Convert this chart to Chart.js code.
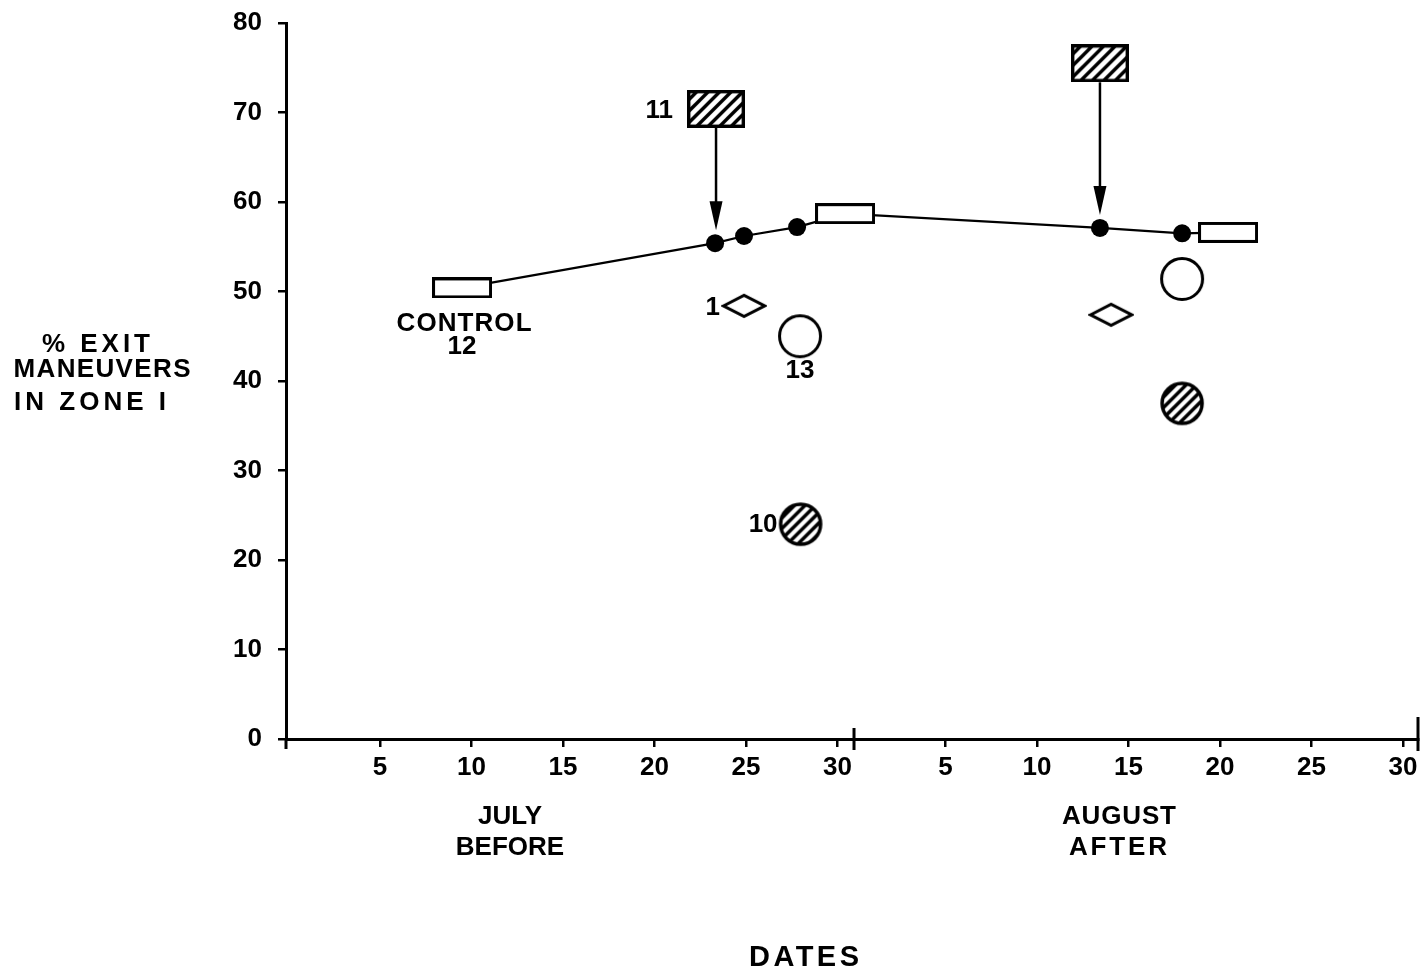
<!DOCTYPE html>
<html><head><meta charset="utf-8">
<script src="https://cdn.jsdelivr.net/npm/chart.js@4.4.1/dist/chart.umd.min.js"></script>
<style>html,body{margin:0;padding:0;background:#fff;overflow:hidden}#wrap{width:1422px;height:979px;position:relative}</style>
</head><body><div id="wrap"><canvas id="c"></canvas></div>
<script>
const FONT = '"Liberation Sans", Arial, sans-serif';
// x value = days counted from 30 June (July d = d, August d = AUG0 + d)
const AUG0 = 30.9;
const julyTickDays = [5, 10, 15, 20, 25, 30];
const augTickDays = [5, 10, 15, 20, 25, 30];
const xTickLabels = julyTickDays.concat(augTickDays).map(String);
const yTicks = [0, 10, 20, 30, 40, 50, 60, 70, 80];

const controlDays = [9.48, 30.41, 51.34];
const controlVals = [50.4, 58.7, 56.6];
const dotDays = [23.31, 24.89, 27.79, 44.34, 48.83];
const dotVals = [55.4, 56.2, 57.2, 57.1, 56.5];
const hatchRectDays = [23.36, 44.34];
const hatchRectVals = [70.4, 75.5];
const diamondDays = [24.89, 44.95];
const diamondVals = [48.4, 47.4];
const openCircleDays = [27.95, 48.83];
const openCircleVals = [45.0, 51.4];
const hatchCircleDays = [27.98, 48.83];
const hatchCircleVals = [24.0, 37.5];
const arrowTargets = [0, 3]; // dot index each hatched rectangle points to

function mk(w, h, draw) { const c = document.createElement('canvas'); c.width = w; c.height = h; const g = c.getContext('2d'); draw(g, w, h); return c; }
function hatch(g, w, h, step, lw) { g.lineWidth = lw; g.strokeStyle = '#000'; for (let k = -h; k < w + h; k += step) { g.beginPath(); g.moveTo(k, h); g.lineTo(k + h, 0); g.stroke(); } }
const openRect = mk(60, 21, (g, w, h) => { g.fillStyle = '#fff'; g.fillRect(0, 0, w, h); g.lineWidth = 3; g.strokeStyle = '#000'; g.strokeRect(1.5, 1.5, w - 3, h - 3); });
const hatchRect = mk(58, 38, (g, w, h) => { g.fillStyle = '#fff'; g.fillRect(0, 0, w, h); g.save(); g.beginPath(); g.rect(0, 0, w, h); g.clip(); hatch(g, w, h, 11.5, 3.4); g.restore(); g.lineWidth = 3.4; g.strokeStyle = '#000'; g.strokeRect(1.7, 1.7, w - 3.4, h - 3.4); });
const hatchCircle = mk(46, 46, (g, w, h) => { g.beginPath(); g.arc(23, 23, 20, 0, Math.PI * 2); g.fillStyle = '#fff'; g.fill(); g.save(); g.clip(); hatch(g, w, h, 10.5, 3.4); g.restore(); g.lineWidth = 3.5; g.strokeStyle = '#000'; g.beginPath(); g.arc(23, 23, 20, 0, Math.PI * 2); g.stroke(); });
const openCircle = mk(46, 46, (g) => { g.beginPath(); g.arc(23, 23, 20.5, 0, Math.PI * 2); g.fillStyle = '#fff'; g.fill(); g.lineWidth = 3; g.strokeStyle = '#000'; g.stroke(); });
const diamond = mk(46, 26, (g, w, h) => { g.beginPath(); g.moveTo(2.5, h / 2); g.lineTo(w / 2, 2.5); g.lineTo(w - 2.5, h / 2); g.lineTo(w / 2, h - 2.5); g.closePath(); g.fillStyle = '#fff'; g.fill(); g.lineWidth = 3; g.strokeStyle = '#000'; g.stroke(); });

const pts = (xs, ys) => xs.map((x, i) => ({ x, y: ys[i] }));
const linePts = pts(controlDays, controlVals).concat(pts(dotDays, dotVals)).sort((a, b) => a.x - b.x);

function imgSet(label, data, img, order) {
  return { label, data, pointStyle: img, pointRadius: 5, pointHoverRadius: 5, showLine: false, order };
}

function fitText(ctx, str, cx, cy, size, target) {
  ctx.font = 'bold ' + size + 'px ' + FONT;
  if ('letterSpacing' in ctx) ctx.letterSpacing = '0px';
  const w0 = ctx.measureText(str).width;
  let sp = 0;
  if (target && str.length > 1) sp = Math.max(0, (target - w0) / (str.length - 1));
  if ('letterSpacing' in ctx) ctx.letterSpacing = sp + 'px'; else sp = 0;
  const total = w0 + sp * (str.length - 1);
  ctx.textAlign = 'left'; ctx.textBaseline = 'middle'; ctx.fillStyle = '#000';
  ctx.fillText(str, cx - total / 2, cy);
  if ('letterSpacing' in ctx) ctx.letterSpacing = '0px';
}

const noPad = s => { s.paddingLeft = 0; s.paddingRight = 0; s.paddingTop = 0; s.paddingBottom = 0; };

const extras = {
  id: 'extras',
  afterDatasetsDraw(chart) {
    const ctx = chart.ctx, xs = chart.scales.x, ys = chart.scales.y;
    const X = v => xs.getPixelForValue(v), Y = v => ys.getPixelForValue(v);
    const axisY = ys.getPixelForValue(0);
    ctx.save();
    ctx.strokeStyle = '#000'; ctx.fillStyle = '#000';
    // arrows
    hatchRectDays.forEach((d, i) => {
      const x = X(d);
      const y0 = Y(hatchRectVals[i]) + hatchRect.height / 2;
      const tip = Y(dotVals[arrowTargets[i]]) - 13;
      ctx.lineWidth = 2.5;
      ctx.beginPath(); ctx.moveTo(x, y0); ctx.lineTo(x, tip - 20); ctx.stroke();
      ctx.beginPath(); ctx.moveTo(x - 6.5, tip - 29); ctx.lineTo(x + 6.5, tip - 29); ctx.lineTo(x, tip); ctx.closePath(); ctx.fill();
    });
    // boundary ticks
    ctx.lineWidth = 3;
    const vt = (v, up, down) => { ctx.beginPath(); ctx.moveTo(X(v), axisY - up); ctx.lineTo(X(v), axisY + down); ctx.stroke(); };
    ctx.beginPath(); ctx.moveTo(chart.chartArea.left, axisY); ctx.lineTo(chart.chartArea.left, axisY + 10); ctx.stroke();
    vt(AUG0, 11, 11);
    vt(xs.max, 22, 12);
    // point annotations
    const r0x = X(hatchRectDays[0]), r0y = Y(hatchRectVals[0]);
    ctx.font = 'bold 26px ' + FONT; ctx.textAlign = 'right'; ctx.textBaseline = 'middle';
    ctx.fillText('11', r0x - 43, r0y + 2);
    const cx = X(controlDays[0]), cy = Y(controlVals[0]);
    fitText(ctx, 'CONTROL', cx + 2, cy + 36, 26, 135);
    fitText(ctx, '12', cx, cy + 59, 26, 0);
    ctx.font = 'bold 26px ' + FONT; ctx.textAlign = 'right'; ctx.textBaseline = 'middle';
    ctx.fillText('1', X(diamondDays[0]) - 24, Y(diamondVals[0]) + 2);
    fitText(ctx, '13', X(openCircleDays[0]), Y(openCircleVals[0]) + 35, 26, 0);
    ctx.font = 'bold 26px ' + FONT; ctx.textAlign = 'right'; ctx.textBaseline = 'middle';
    ctx.fillText('10', X(hatchCircleDays[0]) - 23, Y(hatchCircleVals[0]) + 1);
    // axis captions
    fitText(ctx, 'JULY', 510, 817, 26, 62);
    fitText(ctx, 'BEFORE', 510, 848, 26, 108);
    fitText(ctx, 'AUGUST', 1119, 817, 26, 114);
    fitText(ctx, 'AFTER', 1118, 848, 26, 98);
    fitText(ctx, 'DATES', 804, 958, 29, 110);
    fitText(ctx, '% EXIT', 96, 345, 26, 108);
    fitText(ctx, 'MANEUVERS', 102, 370, 26, 177);
    fitText(ctx, 'IN ZONE I', 90, 403, 26, 152);
    ctx.restore();
  }
};

const tickFont = { family: FONT, size: 26, weight: 'bold' };
new Chart(document.getElementById('c'), {
  type: 'scatter',
  data: {
    datasets: [
      { label: 'trend', data: linePts, showLine: true, borderColor: '#000', borderWidth: 2.2, pointRadius: 0, pointHoverRadius: 0, order: 10 },
      { label: 'dots', data: pts(dotDays, dotVals), pointStyle: 'circle', pointRadius: 9, pointHoverRadius: 9, backgroundColor: '#000', borderColor: '#000', borderWidth: 0, order: 5 },
      imgSet('control', pts(controlDays, controlVals), openRect, 1),
      imgSet('hatched rect', pts(hatchRectDays, hatchRectVals), hatchRect, 1),
      imgSet('diamond', pts(diamondDays, diamondVals), diamond, 1),
      imgSet('open circle', pts(openCircleDays, openCircleVals), openCircle, 1),
      imgSet('hatched circle', pts(hatchCircleDays, hatchCircleVals), hatchCircle, 1)
    ]
  },
  options: {
    responsive: true, maintainAspectRatio: false, animation: false, events: [],
    layout: { autoPadding: false, padding: { top: 23, right: 4, left: 0, bottom: 0 } },
    plugins: { legend: { display: false }, tooltip: { enabled: false } },
    scales: {
      x: {
        type: 'linear', min: -0.14, max: 61.72,
        afterBuildTicks: s => { s.ticks = julyTickDays.map(v => ({ value: v })).concat(augTickDays.map(v => ({ value: AUG0 + v }))); },
        ticks: { callback: (v, i) => xTickLabels[i], font: tickFont, color: '#000', padding: 5, maxRotation: 0, autoSkip: false },
        grid: { display: true, drawOnChartArea: false, drawTicks: true, tickLength: 8, color: '#000', lineWidth: 2.5 },
        border: { display: true, color: '#000', width: 3 },
        afterFit: s => { s.height = 240; noPad(s); }
      },
      y: {
        min: 0, max: 80,
        afterBuildTicks: s => { s.ticks = yTicks.map(v => ({ value: v })); },
        ticks: { font: tickFont, color: '#000', padding: 16, autoSkip: false },
        grid: { display: true, drawOnChartArea: false, drawTicks: true, tickLength: 8, color: '#000', lineWidth: 2.5 },
        border: { display: true, color: '#000', width: 3 },
        afterFit: s => { s.width = 286; noPad(s); }
      }
    }
  },
  plugins: [extras]
});
</script>
</body></html>
